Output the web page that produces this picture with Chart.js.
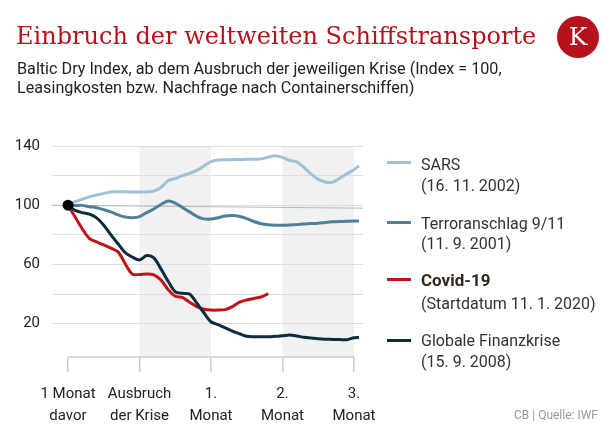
<!DOCTYPE html>
<html lang="de">
<head>
<meta charset="utf-8">
<script src="https://cdn.jsdelivr.net/npm/chart.js@4"></script>
<style>
  body { margin: 0; background: #fff; font-family: Roboto, sans-serif; }
  #page { position: relative; width: 616px; height: 428px; overflow: hidden; }
  #chart { position: absolute; left: 0; top: 0; }
  .abs { position: absolute; white-space: nowrap; }
  #title { left: 16px; top: 21px; font-family: "DejaVu Serif", serif; font-size: 24px; line-height: 30px; color: #b5121b; }
  #logo { left: 557px; top: 16px; width: 42px; height: 42px; border-radius: 50%; background: #b5121b;
          color: #fff; font-family: "DejaVu Serif", serif; font-size: 25px; line-height: 42px; text-align: center; }
  .sub { left: 17px; font-size: 16.2px; line-height: 18.5px; color: #222; }
  .leg { left: 421px; font-size: 16px; line-height: 20px; color: #333; }
  .legB { font-weight: bold; font-size: 17px; color: #33261d; }
  .swatch { left: 387px; width: 24px; height: 3px; }
  #source { right: 18px; top: 406px; font-size: 12px; line-height: 18px; color: #999; }
</style>
</head>
<body>
<div id="page">
  <canvas id="chart" width="616" height="428"></canvas>
  <div class="abs" id="title">Einbruch der weltweiten Schiffstransporte</div>
  <div class="abs" id="logo">K</div>
  <div class="abs sub" style="top:60px">Baltic Dry Index, ab dem Ausbruch der jeweiligen Krise (Index = 100,</div>
  <div class="abs sub" style="top:78.5px">Leasingkosten bzw. Nachfrage nach Containerschiffen)</div>

  <div class="abs swatch" style="top:161px;background:#a0c0d3"></div>
  <div class="abs leg" style="top:155px">SARS</div>
  <div class="abs leg" style="top:176px">(16. 11. 2002)</div>

  <div class="abs swatch" style="top:221px;background:#4f8099"></div>
  <div class="abs leg" style="top:214px">Terroranschlag 9/11</div>
  <div class="abs leg" style="top:234px">(11. 9. 2001)</div>

  <div class="abs swatch" style="top:278px;background:#c0121a"></div>
  <div class="abs leg legB" style="top:270px">Covid-19</div>
  <div class="abs leg" style="top:294px">(Startdatum 11. 1. 2020)</div>

  <div class="abs swatch" style="top:339px;background:#0d2c3e"></div>
  <div class="abs leg" style="top:331px">Globale Finanzkrise</div>
  <div class="abs leg" style="top:352px">(15. 9. 2008)</div>

  <div class="abs" id="source">CB | Quelle: IWF</div>
</div>
<script>
// months relative to one month before the crisis (0 = 1 Monat davor, 1 = Ausbruch)
const monthPos = [0, 0.1, 0.2, 0.3, 0.4, 0.5, 0.6, 0.7, 0.8, 0.9,
                  1.0, 1.1, 1.2, 1.3, 1.4, 1.5, 1.6, 1.7, 1.8, 1.9,
                  2.0, 2.1, 2.2, 2.3, 2.4, 2.5, 2.6, 2.7, 2.8, 2.9,
                  3.0, 3.1, 3.2, 3.3, 3.4, 3.5, 3.6, 3.7, 3.8, 3.9,
                  4.0, 4.07];

const sars = [100, 102.4, 104, 105.7, 106.9, 108, 108.9, 109.1, 109.1, 108.9,
              108.9, 109, 109.5, 112, 116.5, 118, 120, 121.5, 123.5, 126.5,
              129.5, 130.5, 130.7, 130.8, 130.9, 131, 131.1, 131.3, 132.5, 133.4,
              132.3, 130.2, 129.3, 125.5, 121, 117.5, 115.7, 115.6, 118.2, 121.2,
              124, 126.5];

const terror = [100, 99.8, 99.9, 99, 98.3, 97, 95.5, 93.5, 92, 91.6,
                92.3, 95, 97.5, 100.5, 102.8, 101.5, 98.5, 95.5, 92.5, 90.8,
                90.7, 91.6, 92.7, 93, 92.4, 91, 89, 87.5, 86.8, 86.5,
                86.4, 86.6, 86.9, 87.3, 87.6, 87.9, 88.4, 88.8, 89, 89.1,
                89.3, 89.4];

const covid = [100, 92, 84, 77.5, 75.2, 73.2, 71, 68.5, 60.5, 53.5,
               53.2, 53.5, 53, 49.5, 43, 38.5, 37.7, 34.5, 31.5, 29.8,
               29.2, 29.2, 29.5, 31.5, 34.5, 36, 37, 38, 40.3, null,
               null, null, null, null, null, null, null, null, null, null,
               null, null];

const finanz = [100, 96.5, 95, 94, 91.5, 86.5, 80, 74, 68, 65,
                63, 66, 64.5, 57, 48.7, 41.5, 40.5, 40, 34, 27.4,
                21.3, 19.3, 17.2, 15, 13.2, 11.5, 11.2, 11.2, 11.2, 11.5,
                11.8, 12.3, 11.7, 10.8, 10.3, 9.8, 9.5, 9.4, 9.3, 9.2,
                10.5, 10.8];

// thin reference line (index = 100) across the plot
const refX = [-0.224, 4.126];
const refY = [100, 98];

const startX = [0];
const startY = [100];

const xTicks = [0, 1, 2, 3, 4];
const xLabels = [['1 Monat', 'davor'], ['Ausbruch', 'der Krise'], ['1.', 'Monat'], ['2.', 'Monat'], ['3.', 'Monat']];
const yTicks = [20, 40, 60, 80, 100, 120, 140];
const yLabelled = [20, 60, 100, 140];
const shadedBands = [[1, 2], [3, 4]];

const toPoints = (xs, ys) => xs.map((x, i) => ({ x: x, y: ys[i] }));

const bandPlugin = {
    id: 'bands',
    beforeDraw(chart) {
        const { ctx, chartArea, scales } = chart;
        const x = scales.x;
        ctx.save();
        ctx.fillStyle = '#f1f1f1';
        shadedBands.forEach(([a, b]) => {
            const x0 = x.getPixelForValue(a);
            const x1 = x.getPixelForValue(b);
            ctx.fillRect(x0, chartArea.top, x1 - x0, chartArea.bottom - chartArea.top);
        });
        ctx.restore();
    },
    beforeDatasetsDraw(chart) {
        // axis line only between first and last tick
        const { ctx, chartArea, scales } = chart;
        const x = scales.x;
        ctx.save();
        ctx.strokeStyle = '#cccccc';
        ctx.lineWidth = 1.5;
        ctx.beginPath();
        ctx.moveTo(x.getPixelForValue(xTicks[0]), chartArea.bottom);
        ctx.lineTo(x.getPixelForValue(xTicks[xTicks.length - 1]), chartArea.bottom);
        ctx.stroke();
        ctx.restore();
    }
};

Chart.defaults.font.family = 'Roboto';

const lineStyle = (color, order) => ({
    borderColor: color,
    borderWidth: 3,
    pointRadius: 0,
    tension: 0.3,
    fill: false,
    spanGaps: false,
    order: order
});

new Chart(document.getElementById('chart').getContext('2d'), {
    type: 'line',
    data: {
        datasets: [
            { label: 'ref', data: toPoints(refX, refY), borderColor: '#b8b8b8', borderWidth: 1, pointRadius: 0, order: 10 },
            { label: 'SARS', data: toPoints(monthPos, sars), ...lineStyle('#a0c0d3', 5) },
            { label: 'Terroranschlag 9/11', data: toPoints(monthPos, terror), ...lineStyle('#4f8099', 4) },
            { label: 'Covid-19', data: toPoints(monthPos, covid), ...lineStyle('#c0121a', 3) },
            { label: 'Globale Finanzkrise', data: toPoints(monthPos, finanz), ...lineStyle('#0d2c3e', 2) },
            { label: 'start', data: toPoints(startX, startY), showLine: false, pointRadius: 5.5,
              pointBackgroundColor: '#000', pointBorderWidth: 0, order: 0 }
        ]
    },
    options: {
        responsive: false,
        animation: false,
        layout: { padding: { left: 0, top: 146, right: 253, bottom: 0 } },
        plugins: { legend: { display: false }, tooltip: { enabled: false } },
        scales: {
            x: {
                type: 'linear',
                min: -0.224,
                max: 4.126,
                afterFit: (scale) => { scale.height = 71; },
                afterBuildTicks: (scale) => { scale.ticks = xTicks.map(v => ({ value: v })); },
                border: { display: false },
                grid: { drawOnChartArea: false, drawTicks: true, tickLength: 15, color: '#cccccc', lineWidth: 1.5 },
                ticks: {
                    padding: 11,
                    color: '#222',
                    maxRotation: 0,
                    autoSkip: false,
                    font: { size: 15, lineHeight: 22 / 15 },
                    callback: (v) => xLabels[xTicks.indexOf(v)]
                }
            },
            y: {
                min: -2.5,
                max: 140,
                afterFit: (scale) => { scale.width = 52; },
                afterBuildTicks: (scale) => { scale.ticks = yTicks.map(v => ({ value: v })); },
                border: { display: false },
                grid: { drawTicks: false, color: '#dddddd', lineWidth: 1 , borderDash: [2, 3] },
                ticks: {
                    padding: 12,
                    color: '#222',
                    font: { size: 15 },
                    callback: (v) => yLabelled.includes(v) ? String(v) : ''
                }
            }
        }
    },
    plugins: [bandPlugin]
});
</script>
</body>
</html>
